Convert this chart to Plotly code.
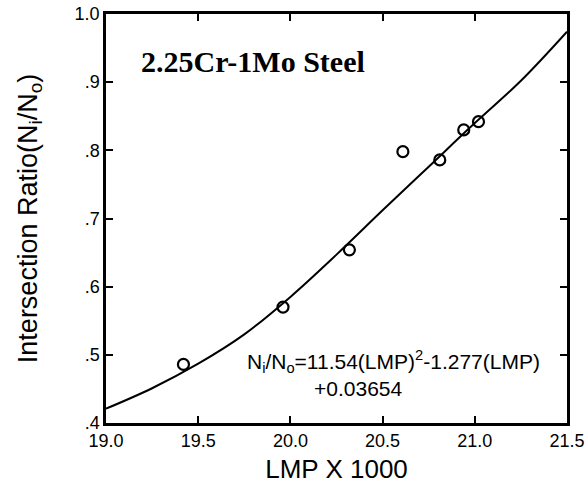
import plotly.graph_objects as go

# measured data points
lmp_points = [19.42, 19.96, 20.32, 20.61, 20.81, 20.94, 21.02]
ratio_points = [0.486, 0.570, 0.654, 0.798, 0.786, 0.830, 0.842]

# fitted curve
lmp_curve = [19.00, 19.25, 19.50, 19.75, 20.00, 20.25, 20.50, 20.75, 21.00, 21.25, 21.50]
ratio_curve = [0.421, 0.451, 0.487, 0.530, 0.585, 0.647, 0.712, 0.776, 0.840, 0.902, 0.974]

x_ticks = [19.0, 19.5, 20.0, 20.5, 21.0, 21.5]
x_tick_text = ["19.0", "19.5", "20.0", "20.5", "21.0", "21.5"]
y_ticks = [0.4, 0.5, 0.6, 0.7, 0.8, 0.9, 1.0]
y_tick_text = [".4", ".5", ".6", ".7", ".8", ".9", "1.0"]

fig = go.Figure()
fig.add_trace(go.Scatter(x=lmp_curve, y=ratio_curve, mode="lines",
                         line=dict(color="black", width=2, shape="spline"),
                         showlegend=False, hoverinfo="skip"))
fig.add_trace(go.Scatter(x=lmp_points, y=ratio_points, mode="markers",
                         marker=dict(symbol="circle-open", size=11, color="black",
                                     line=dict(width=2.2, color="black")),
                         showlegend=False))

axis_font = dict(family="Liberation Sans, Arial, sans-serif", size=18, color="black")
fig.update_xaxes(range=[19.0, 21.5], tickvals=x_ticks, ticktext=x_tick_text,
                 ticks="inside", ticklen=7, tickwidth=2, tickcolor="black",
                 showline=True, linewidth=2.5, linecolor="black", mirror="ticks",
                 showgrid=False, zeroline=False, tickfont=axis_font, automargin=False,
                 title=dict(text="LMP X 1000", standoff=10,
                            font=dict(family="Liberation Sans, Arial, sans-serif", size=26, color="black")))
fig.update_yaxes(range=[0.4, 1.0], tickvals=y_ticks, ticktext=y_tick_text,
                 ticks="inside", ticklen=7, tickwidth=2, tickcolor="black",
                 showline=True, linewidth=2.5, linecolor="black", mirror="ticks",
                 showgrid=False, zeroline=False, tickfont=axis_font, automargin=False,
                 title=dict(text="Intersection Ratio(N<sub>i</sub>/N<sub>o</sub>)", standoff=30,
                            font=dict(family="Liberation Sans, Arial, sans-serif", size=27, color="black")))

fig.add_annotation(x=19.18, y=0.930, xref="x", yref="y", xanchor="left", yanchor="middle",
                   text="<b>2.25Cr-1Mo Steel</b>", showarrow=False,
                   font=dict(family="Liberation Serif, Times New Roman, serif", size=30, color="black"))
fig.add_annotation(x=19.754, y=0.490, xref="x", yref="y", xanchor="left", yanchor="middle",
                   text="N<sub>i</sub>/N<sub>o</sub>=11.54(LMP)<sup>2</sup>-1.277(LMP)", showarrow=False,
                   font=dict(family="Liberation Sans, Arial, sans-serif", size=21, color="black"))
fig.add_annotation(x=20.115, y=0.451, xref="x", yref="y", xanchor="left", yanchor="middle",
                   text="+0.03654", showarrow=False,
                   font=dict(family="Liberation Sans, Arial, sans-serif", size=21, color="black"))

fig.update_layout(width=587, height=497, margin=dict(l=106, r=20, t=14, b=74),
                  plot_bgcolor="white", paper_bgcolor="white")
fig.write_html("out.html", config={"displayModeBar": False},
               post_script="document.body.style.margin='0px';document.body.style.overflow='hidden';")
